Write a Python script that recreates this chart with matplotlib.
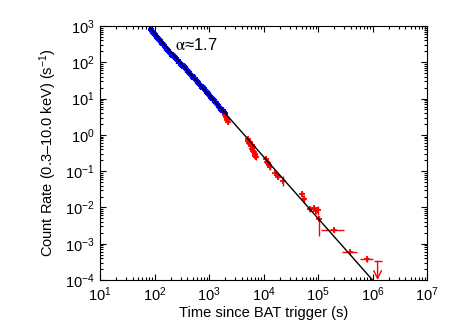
import matplotlib
matplotlib.use('Agg')
import matplotlib.pyplot as plt
import numpy as np

# Blue (WT) points: time (s), count rate (s^-1)
blue_t = [85, 88, 91, 94, 97, 100, 104, 108, 112, 116, 121, 126, 131, 137, 143,
          149, 156, 163, 170, 178, 186, 195, 204, 214, 224, 235, 246, 258, 270,
          283, 297, 311, 326, 342, 358, 375, 393, 412, 432, 453, 475, 498, 522,
          547, 573, 601, 630, 660, 692, 725, 760, 797, 835, 875, 917, 961, 1007,
          1056, 1107, 1160, 1216, 1275, 1336, 1400, 1468, 1539, 1613, 1690, 1772,
          1857, 1946]
blue_rate = [840, 780, 735, 690, 640, 610, 560, 520, 500, 455, 430, 395, 360, 350,
             310, 295, 265, 250, 235, 215, 198, 182, 172, 158, 150, 138, 130, 118,
             112, 104, 97, 88, 82, 78, 72, 66, 61, 56, 53, 49, 45, 41, 38, 36, 33,
             30.5, 28.5, 26, 24, 22.5, 20.5, 19, 17.5, 16, 15, 13.8, 12.6, 11.5,
             10.8, 9.9, 9.2, 8.3, 7.8, 7.0, 6.6, 6.0, 5.5, 5.1, 4.7, 4.3, 4.0]

# Red (PC) points: time, rate, x error (lo, hi), y error (lo, hi)
red_t = [1980, 2040, 2100, 2160, 2220,
         5100, 5300, 5450, 5600, 5750, 5900, 6050, 6200, 6350, 6500, 6700, 6900,
         7100, 7350,
         11200, 11800, 12300, 12800, 13400,
         16500, 17500, 18500, 23000,
         50000, 55000, 70000, 85000, 92000, 98000, 105000,
         200000, 390000, 800000]
red_rate = [3.6, 3.1, 2.8, 2.5, 2.3,
            0.78, 0.68, 0.60, 0.55, 0.62, 0.48, 0.52, 0.42, 0.45, 0.37, 0.33,
            0.30, 0.26, 0.24,
            0.21, 0.18, 0.165, 0.15, 0.13,
            0.090, 0.078, 0.070, 0.055,
            0.024, 0.017, 0.0088, 0.0098, 0.0078, 0.0085, 0.0048,
            0.0024, 0.00059, 0.00037]
red_xlo = [60, 60, 60, 60, 60,
           150, 150, 150, 150, 150, 150, 150, 150, 150, 150, 150, 150, 150, 150,
           300, 300, 300, 300, 300,
           500, 500, 500, 700,
           3000, 3000, 8000, 3000, 3000, 3000, 3000,
           85000, 110000, 210000]
red_xhi = [60, 60, 60, 60, 60,
           150, 150, 150, 150, 150, 150, 150, 150, 150, 150, 150, 150, 150, 150,
           300, 300, 300, 300, 300,
           500, 500, 500, 700,
           3000, 3000, 12000, 3000, 3000, 3000, 3000,
           100000, 140000, 220000]
red_ylo = [0.5, 0.4, 0.4, 0.3, 0.3,
           0.12, 0.1, 0.1, 0.09, 0.1, 0.08, 0.08, 0.07, 0.07, 0.06, 0.05, 0.05,
           0.04, 0.04,
           0.03, 0.025, 0.025, 0.02, 0.02,
           0.012, 0.01, 0.01, 0.015,
           0.004, 0.004, 0.0012, 0.0015, 0.0012, 0.0025, 0.0032,
           0.0003, 0.00009, 0.00006]
red_yhi = [0.5, 0.4, 0.4, 0.3, 0.3,
           0.12, 0.1, 0.1, 0.09, 0.1, 0.08, 0.08, 0.07, 0.07, 0.06, 0.05, 0.05,
           0.04, 0.04,
           0.03, 0.025, 0.025, 0.02, 0.02,
           0.012, 0.01, 0.01, 0.02,
           0.004, 0.005, 0.0012, 0.0015, 0.0012, 0.0025, 0.001,
           0.0003, 0.00009, 0.00006]

# upper limit
ul_t, ul_rate, ul_xlo, ul_xhi = 1.24e6, 3.3e-4, 1.7e5, 2.6e5

# power-law fit, alpha ~ 1.7
fit_t = [82, 1.0e6]
fit_rate = [880, 1.0e-4]

plt.rcParams['font.family'] = 'Liberation Sans'
plt.rcParams['mathtext.fontset'] = 'stix'
plt.rcParams['font.size'] = 10.5

fig = plt.figure(figsize=(4.51, 3.32), dpi=100)
ax = fig.add_axes([100 / 451, 1 - 280 / 332, 327 / 451, 254 / 332])

blue_rate = np.array(blue_rate)
ax.errorbar(blue_t, blue_rate, yerr=0.22 * blue_rate, xerr=np.array(blue_t) * 0.03,
            fmt='+', color='blue', ms=4, mew=1.5, elinewidth=1.6, capsize=0, zorder=2)

ax.errorbar(red_t, red_rate, xerr=[red_xlo, red_xhi], yerr=[red_ylo, red_yhi],
            fmt='+', color='red', ms=5, mew=1.3, elinewidth=1.0, capsize=0, zorder=2)

ax.errorbar([ul_t], [ul_rate], xerr=[[ul_xlo], [ul_xhi]], fmt='none',
            ecolor='red', elinewidth=1.0, capsize=0, zorder=2)
ax.annotate('', xy=(ul_t, 1.0e-4), xytext=(ul_t, ul_rate),
            arrowprops=dict(arrowstyle='->', color='red', lw=1.0,
                            mutation_scale=14, shrinkA=0, shrinkB=0),
            zorder=2, annotation_clip=False)

ax.plot(fit_t, fit_rate, color='black', lw=1.0, zorder=3)

ax.text(235, 300, r'$\mathrm{\alpha}$≈1.7', fontsize=12, va='center', ha='left')

ax.set_xscale('log')
ax.set_yscale('log')
ax.set_xlim(1e1, 1e7)
ax.set_ylim(1e-4, 1e3)
ax.set_xticks([1e1, 1e2, 1e3, 1e4, 1e5, 1e6, 1e7])
ax.set_yticks([1e-4, 1e-3, 1e-2, 1e-1, 1e0, 1e1, 1e2, 1e3])
ax.tick_params(which='both', direction='in', top=True, right=True, width=0.8)
ax.tick_params(which='major', length=4, pad=4)
ax.tick_params(which='minor', length=2)
ax.yaxis.set_minor_locator(matplotlib.ticker.LogLocator(base=10, subs=np.arange(2, 10), numticks=20))
ax.xaxis.set_minor_locator(matplotlib.ticker.LogLocator(base=10, subs=np.arange(2, 10), numticks=20))
for s in ax.spines.values():
    s.set_linewidth(0.8)

ax.set_xlabel('Time since BAT trigger (s)', labelpad=1)
ax.set_ylabel(r'Count Rate (0.3–10.0 keV) (s$^{\mathdefault{-1}}$)', labelpad=4)

plt.savefig('out.png', dpi=100)
